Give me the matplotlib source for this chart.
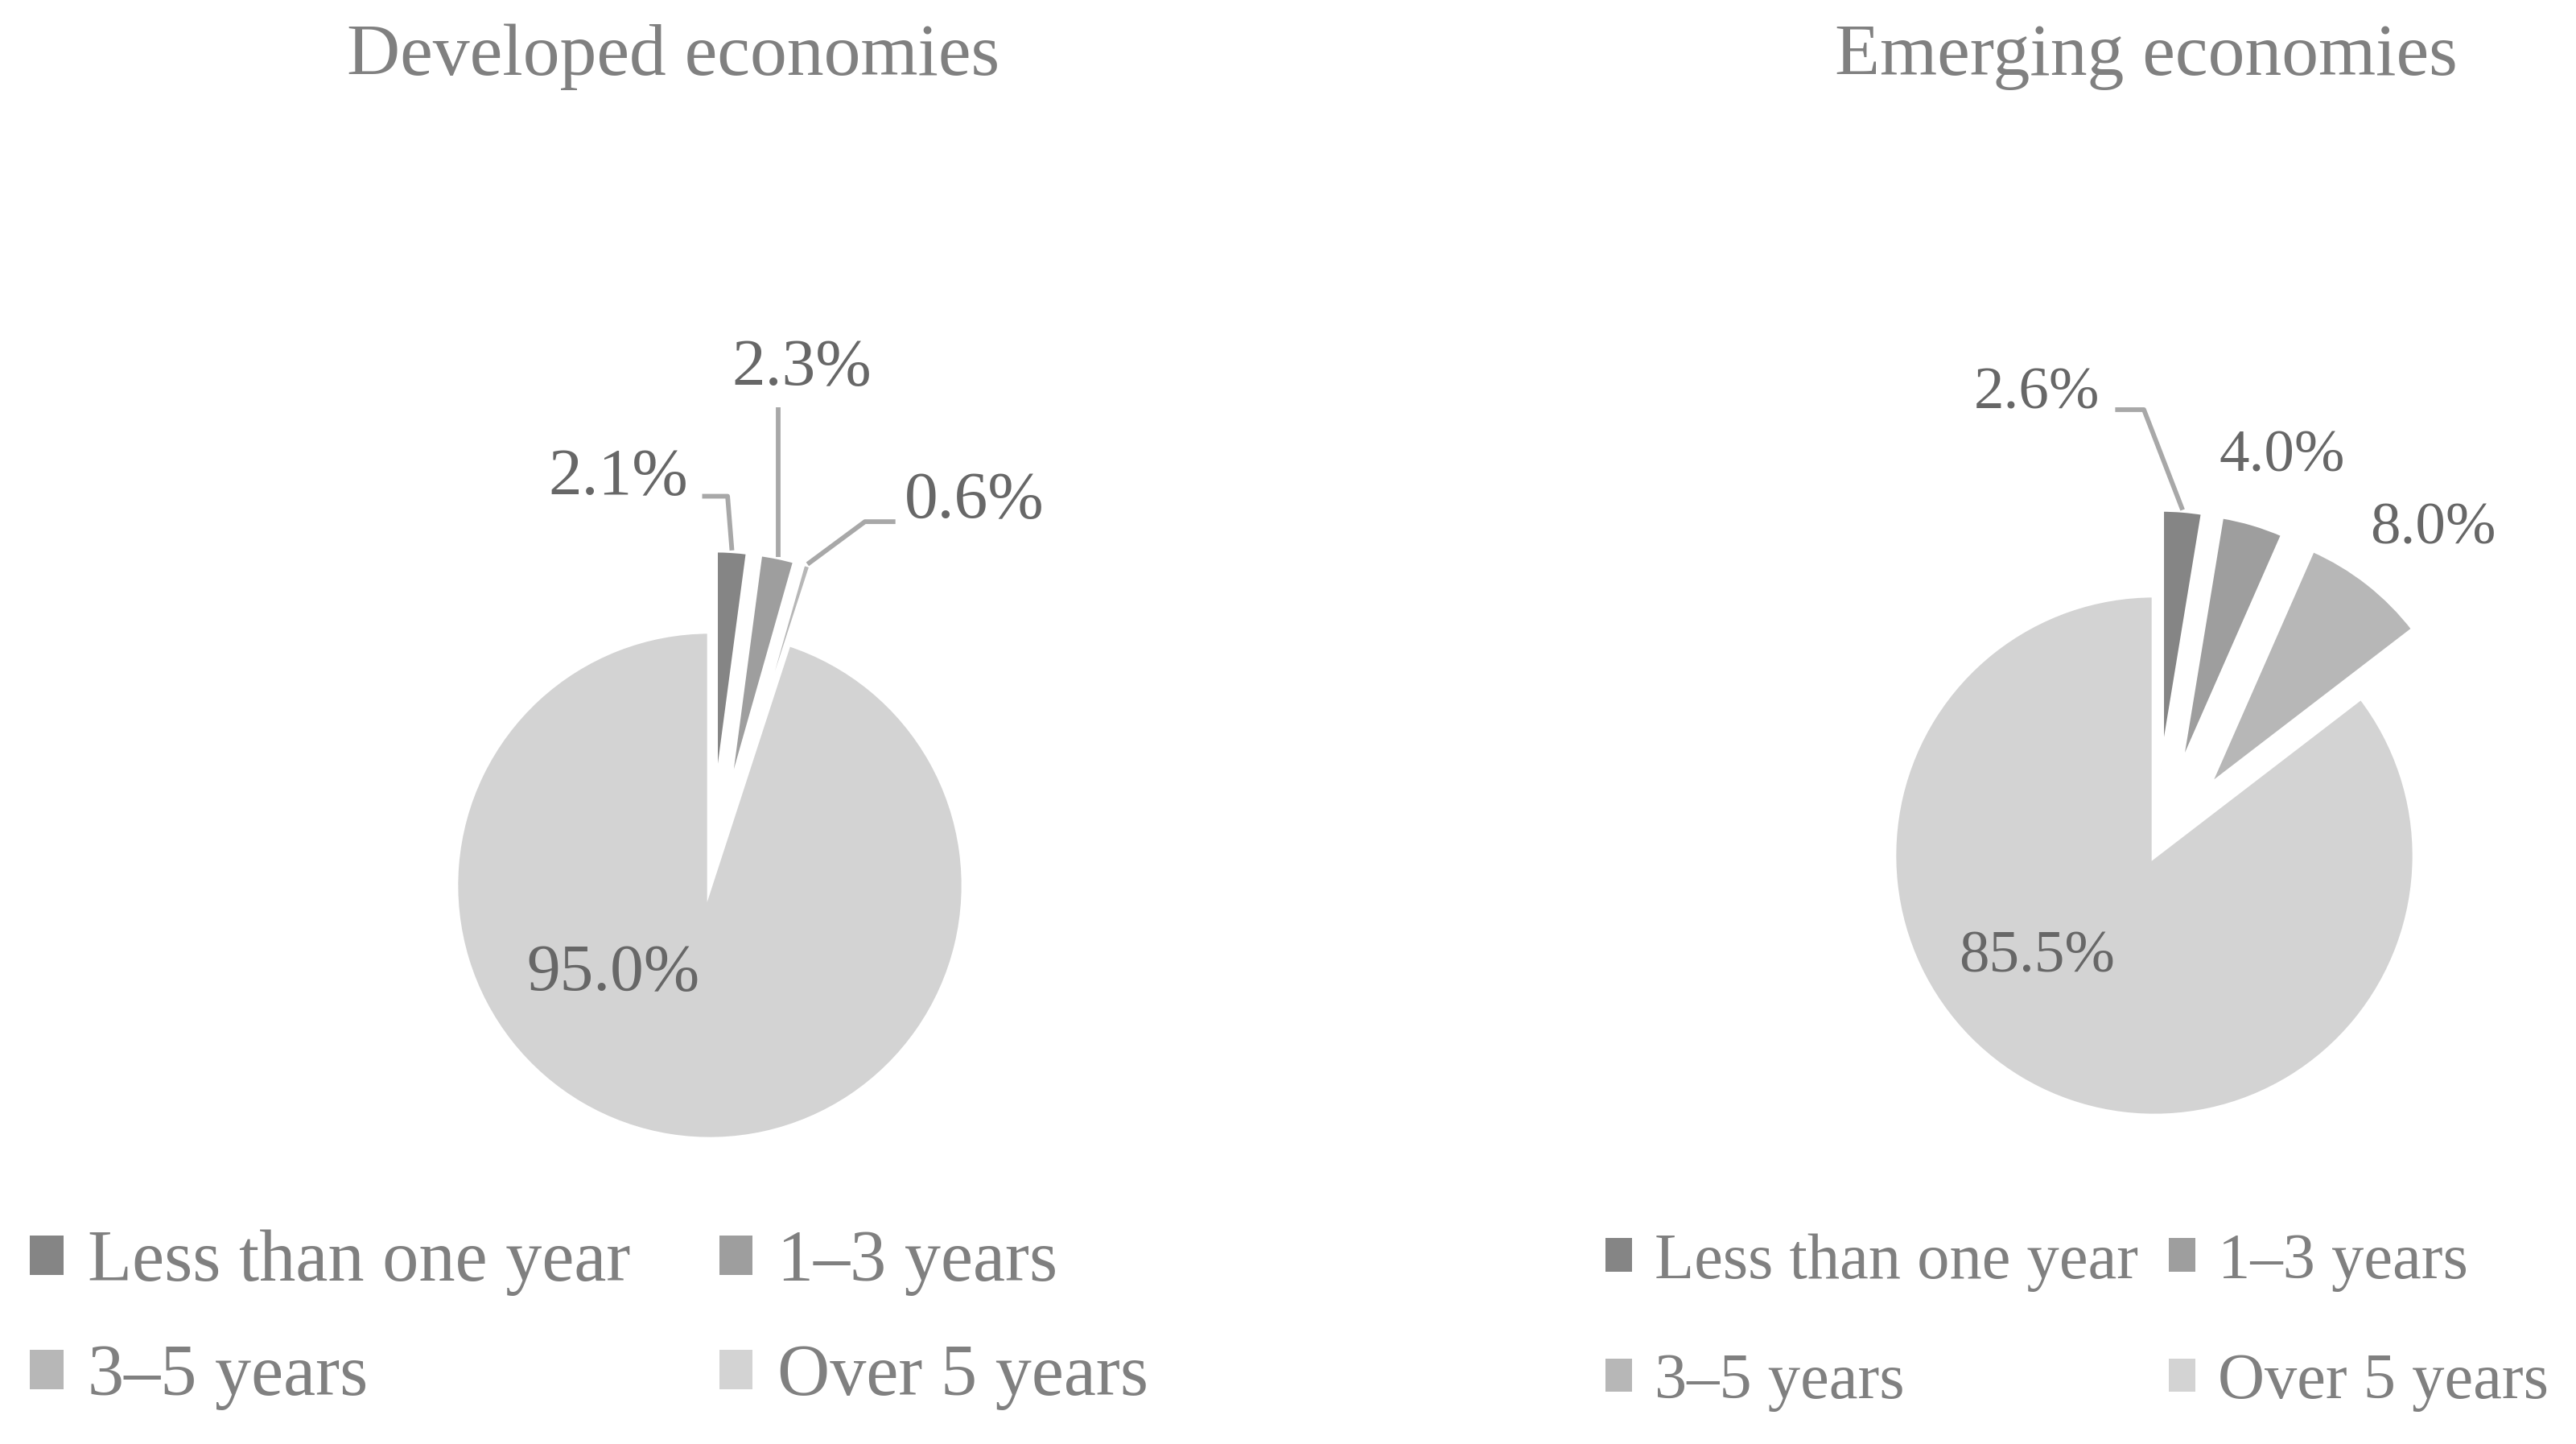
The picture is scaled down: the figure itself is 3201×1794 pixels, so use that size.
import numpy as np
import matplotlib.pyplot as plt

plt.rcParams['font.family'] = ['Liberation Serif', 'DejaVu Serif']

# data
categories = ['Less than one year', '1–3 years', '3–5 years', 'Over 5 years']
developed = [2.1, 2.3, 0.6, 95.0]
emerging = [2.6, 4.0, 8.0, 85.5]
titles = ['Developed economies', 'Emerging economies']

colors = ['#858585', '#9e9e9e', '#b7b7b7', '#d3d3d3']
label_color = '#676767'
title_color = '#808080'
line_color = '#a8a8a8'

W, H = 3201, 1794
DPI = 200
fig = plt.figure(figsize=(W / DPI, H / DPI), dpi=DPI)


def pie_axes(cx, cy, r, L=2.4):
    # square axes centred on (cx, cy) in pixels (y from top), one unit = r px
    ax = fig.add_axes([(cx - L * r) / W, (H - cy - L * r) / H,
                       2 * L * r / W, 2 * L * r / H])
    ax.set_axis_off()
    return ax, L


def draw_pie(ax, L, values, explode):
    wedges, _ = ax.pie(values, explode=explode, colors=colors, startangle=90,
                       counterclock=False, radius=1,
                       wedgeprops=dict(edgecolor='white', linewidth=2.4))
    ax.set_xlim(-L, L)
    ax.set_ylim(-L, L)
    return wedges


def arc_mid(w):
    # point on the outer arc at the middle of a wedge
    a = np.deg2rad((w.theta1 + w.theta2) / 2)
    cx, cy = w.center
    return cx + w.r * np.cos(a), cy + w.r * np.sin(a)


# ---- left pie
axL, L1 = pie_axes(882, 1100, 316)
wL = draw_pie(axL, L1, developed, [0.32, 0.32, 0.32, 0])
text_pos_L = [(-0.36, 1.60), (0.36, 2.03), (1.04, 1.51), (-0.38, -0.35)]
leaders_L = [[(-0.03, 1.53), (0.07, 1.53)],
             [(0.27, 1.88)],
             [(0.73, 1.43), (0.61, 1.43)],
             None]
for w, v, p, ld in zip(wL, developed, text_pos_L, leaders_L):
    axL.text(p[0], p[1], f'{v:.1f}%', ha='center', va='center',
             fontsize=30, color=label_color)
    if ld is not None:
        end = arc_mid(w)
        pts = ld + [end]
        if len(ld) == 1:
            pts = [ld[0], (ld[0][0], end[1])]
        xs, ys = zip(*pts)
        axL.plot(xs, ys, color=line_color, lw=2.1, solid_capstyle='butt')

# ---- right pie
axR, L2 = pie_axes(2677, 1063, 324)
wR = draw_pie(axR, L2, emerging, [0.33, 0.33, 0.33, 0])
text_pos_R = [(-0.45, 1.77), (0.49, 1.53), (1.07, 1.25), (-0.45, -0.39)]
leaders_R = [[(-0.15, 1.71), (-0.04, 1.71)], None, None, None]
for w, v, p, ld in zip(wR, emerging, text_pos_R, leaders_R):
    axR.text(p[0], p[1], f'{v:.1f}%', ha='center', va='center',
             fontsize=27, color=label_color)
    if ld is not None:
        end = arc_mid(w)
        xs, ys = zip(*(ld + [end]))
        axR.plot(xs, ys, color=line_color, lw=2.1, solid_capstyle='butt')

# titles
fig.text(837 / W, 1 - 71 / H, titles[0], ha='center', va='center',
         fontsize=33, color=title_color)
fig.text(2667 / W, 1 - 71 / H, titles[1], ha='center', va='center',
         fontsize=33, color=title_color)

# legends (column-first fill, so reorder to get rows)
order = [0, 2, 1, 3]
legL = fig.legend([wL[i] for i in order], [categories[i] for i in order],
                  loc='center left', bbox_to_anchor=(37 / W, 154 / H),
                  ncol=2, frameon=False, fontsize=32.5, borderpad=0,
                  borderaxespad=0, handlelength=0.46, handleheight=0.46,
                  handletextpad=0.34, columnspacing=1.22, labelspacing=0.66,
                  labelcolor=title_color)
legR = fig.legend([wR[i] for i in order], [categories[i] for i in order],
                  loc='center left', bbox_to_anchor=(1995 / W, 151 / H),
                  ncol=2, frameon=False, fontsize=29, borderpad=0,
                  borderaxespad=0, handlelength=0.41, handleheight=0.41,
                  handletextpad=0.35, columnspacing=0.47, labelspacing=0.95,
                  labelcolor=title_color)
for leg in (legL, legR):
    for h in leg.legend_handles:
        h.set_edgecolor('none')

fig.savefig('out.png', dpi=DPI)
